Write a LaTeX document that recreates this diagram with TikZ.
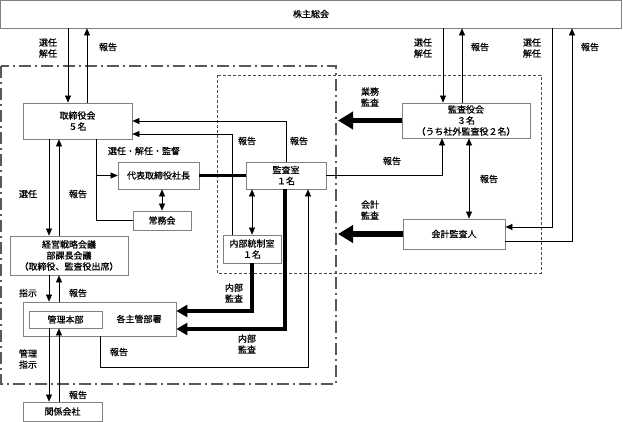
\documentclass[tikz,border=0pt]{standalone}
\usepackage{fontspec}
\setmainfont{Noto Sans CJK JP}[FakeBold=0.6]
\usetikzlibrary{calc,arrows.meta}

\begin{document}
\begin{tikzpicture}[x=1pt,y=-1pt,
    font=\fontsize{9}{11}\selectfont,
    box/.style={draw=gray, line width=0.8pt, fill=white, align=center, inner sep=0pt},
    arr/.style={-{Triangle[width=6pt,length=7pt]}, line width=0.6pt},
    darr/.style={{Triangle[width=6pt,length=7pt]}-{Triangle[width=6pt,length=7pt]}, line width=0.6pt},
    heavy/.style={-{Triangle[width=12pt,length=11pt]}, line width=4.5pt},
    bigheavy/.style={-{Triangle[width=17pt,length=15pt]}, line width=5.5pt},
    lbl/.style={align=center, inner sep=0pt}]
    \useasboundingbox (0,0) rectangle (623,422);
    \coordinate (edge) at (338,0);

    % frames
    \draw[gray!70!black, line width=1.2pt, dash pattern=on 12pt off 4pt on 2pt off 4pt] (1,66) rectangle (336,384);
    \draw[gray!60!black, line width=0.6pt, dash pattern=on 3pt off 2pt] (217,75) rectangle (541,273);

    % boxes
    \node[box, minimum width=621pt, minimum height=28pt] (soukai) at (311,14) {株主総会};
    \node[box, minimum width=109pt, minimum height=36pt] (torishimari) at (77.5,121) {取締役会\\５名};
    \node[box, minimum width=128pt, minimum height=35pt] (kansayaku) at (466,120.5) {監査役会\\３名\\（うち社外監査役２名）};
    \node[box, minimum width=102pt, minimum height=30pt] (kaikei) at (454,234) {会計監査人};
    \node[box, minimum width=80pt, minimum height=27pt] (kansashitsu) at (286,175.5) {監査室\\１名};
    \node[box, minimum width=81pt, minimum height=27pt] (shacho) at (158.5,175.5) {代表取締役社長};
    \node[box, minimum width=58pt, minimum height=19pt] (jomu) at (162,220.5) {常務会};
    \node[box, minimum width=118pt, minimum height=39pt] (keiei) at (69,255.5) {経営戦略会議\\部課長会議\\（取締役、監査役出席）};
    \node[box, minimum width=58pt, minimum height=28pt] (naibu) at (252,249) {内部統制室\\１名};
    \node[box, minimum width=153pt, minimum height=34pt] (kakushukan) at (99.5,319) {};
    \node[lbl] (kakushukanTxt) at (139,319) {各主管部署};
    \node[box, minimum width=73pt, minimum height=17pt] (kanri) at (65.5,319.5) {管理本部};
    \node[box, minimum width=79pt, minimum height=19pt] (kankei) at (62.5,411.5) {関係会社};

    % 株主総会
    \draw[arr] (soukai.south -| 68,0) -- (torishimari.north -| 68,0);
    \draw[arr] (torishimari.north -| 87,0) -- (soukai.south -| 87,0);
    \draw[arr] (soukai.south -| 443,0) -- (kansayaku.north -| 443,0);
    \draw[arr] (kansayaku.north -| 462,0) -- (soukai.south -| 462,0);
    \draw[arr] (soukai.south -| 552,0) |- ([yshift=7pt]kaikei.east);
    \draw[arr] ([yshift=-7pt]kaikei.east) -| (soukai.south -| 572,0);

    % 取締役会
    \draw[arr] (torishimari.south -| 49,0) -- (keiei.north -| 49,0);
    \draw[arr] (keiei.north -| 59,0) -- (torishimari.south -| 59,0);
    \draw[line width=0.6pt] (torishimari.south -| 96,0) |- (jomu.west);
    \draw[arr] (shacho.west -| 96,0) -- (shacho.west);
    \draw[darr] (shacho.south -| jomu.north) -- (jomu.north);
    \draw[line width=3pt] (shacho.east) -- (kansashitsu.west);
    \draw[arr] (kansashitsu.north) |- (torishimari.east);
    \draw[arr] (naibu.north -| 232,0) |- ([yshift=-13pt]torishimari.east);

    % 監査室
    \draw[darr] (kansashitsu.south -| naibu.north) -- (naibu.north);
    \draw[arr] (kansashitsu.east) -| (kansayaku.south -| 442,0);
    \draw[darr] (kansayaku.south -| 469,0) -- (kaikei.north -| 469,0);
    \draw[bigheavy] (kansayaku.west) -- (kansayaku.west -| edge);
    \draw[bigheavy] (kaikei.west) -- (kaikei.west -| edge);
    \draw[heavy] (naibu.south) |- ([yshift=8pt]kakushukan.east);
    \draw[heavy] (kansashitsu.south -| 285,0) |- ([yshift=-10pt]kakushukan.east);
    \draw[arr] (kakushukan.south -| 100,0) -- (100,367) -| (kansashitsu.south -| 308,0);

    % 各主管部署, 関係会社
    \draw[arr] (keiei.south -| 49,0) -- (kakushukan.north -| 49,0);
    \draw[arr] (kakushukan.north -| 59,0) -- (keiei.south -| 59,0);
    \draw[arr] (kanri.south -| 49,0) -- (kankei.north -| 49,0);
    \draw[arr] (kankei.north -| 59,0) -- (kanri.south -| 59,0);

    % labels
    \node[lbl] (lbSen1) at (48,48) {選任\\解任};
    \node[lbl] (lbHo1) at (108,47) {報告};
    \node[lbl] (lbSen2) at (423,48) {選任\\解任};
    \node[lbl] (lbHo2) at (480,47) {報告};
    \node[lbl] (lbSen3) at (532,48) {選任\\解任};
    \node[lbl] (lbHo3) at (590,47) {報告};
    \node[lbl] (lbGyomu) at (370,97) {業務\\監査};
    \node[lbl] (lbHo4) at (247,141) {報告};
    \node[lbl] (lbHo5) at (299,141) {報告};
    \node[lbl] (lbKantoku) at (144,151) {選任・解任・監督};
    \node[lbl] (lbSen4) at (28,194) {選任};
    \node[lbl] (lbHo6) at (78,194) {報告};
    \node[lbl] (lbHo7) at (392,161) {報告};
    \node[lbl] (lbHo8) at (489,179) {報告};
    \node[lbl] (lbKaikei) at (370,210) {会計\\監査};
    \node[lbl] (lbNaibu1) at (234,293) {内部\\監査};
    \node[lbl] (lbNaibu2) at (247,344) {内部\\監査};
    \node[lbl] (lbHo9) at (119,352) {報告};
    \node[lbl] (lbShiji) at (28,293) {指示};
    \node[lbl] (lbHo10) at (78,293) {報告};
    \node[lbl] (lbKanri) at (28,359) {管理\\指示};
    \node[lbl] (lbHo11) at (78,395) {報告};
\end{tikzpicture}
\end{document}
